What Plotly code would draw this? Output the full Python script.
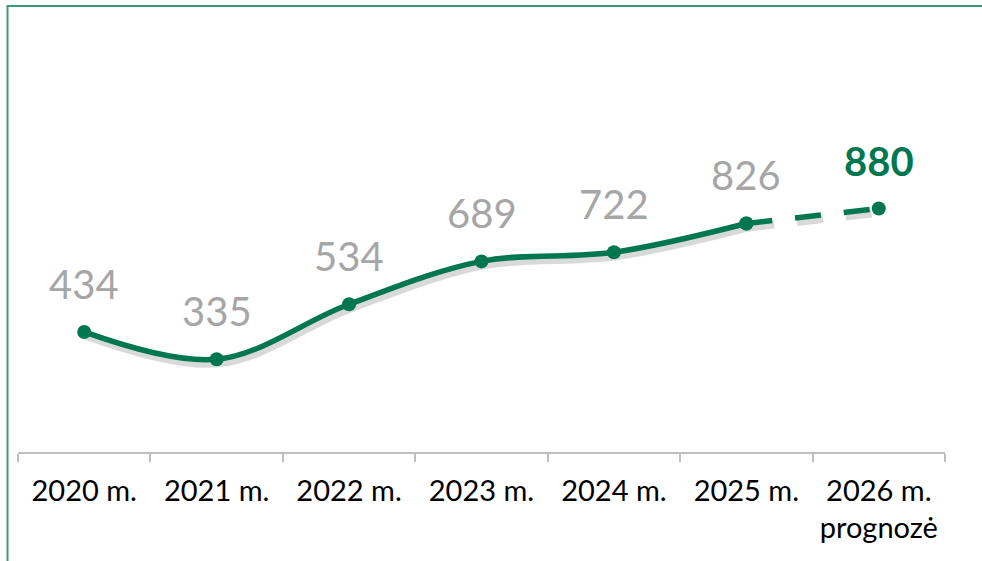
import plotly.graph_objects as go

# chart data
years = ["2020 m.", "2021 m.", "2022 m.", "2023 m.", "2024 m.", "2025 m.", "2026 m.<br>prognozė"]
values = [434, 335, 534, 689, 722, 826, 880]
n_actual = 6  # first six are actual values, last one is a forecast

GREEN = "#00774F"
GREY_LABEL = "#A6A6A6"
BORDER = "#3E9878"

W, H = 982, 561
SHX, SHY = 2, 4  # shadow offset in pixels
L, R, T, B = 18, 37 - SHX, 37, 109 - SHY
Y_MAX = 1500

pw, ph = W - L - R, H - B - T
sx, sy = SHX / pw, SHY / ph

fig = go.Figure()

# soft shadow under the line (x/y axes, drawn first, slightly offset)
fig.add_trace(go.Scatter(
    x=years[:n_actual], y=values[:n_actual],
    mode="lines", line=dict(color="rgba(0,0,0,0.15)", width=8, shape="spline", smoothing=1),
    hoverinfo="skip", showlegend=False,
))
fig.add_trace(go.Scatter(
    x=years[n_actual - 1:], y=values[n_actual - 1:],
    mode="lines", line=dict(color="rgba(0,0,0,0.15)", width=8, dash="26px,23px"),
    hoverinfo="skip", showlegend=False,
))

# actual values
fig.add_trace(go.Scatter(
    x=years[:n_actual], y=values[:n_actual], xaxis="x2", yaxis="y2",
    mode="lines+markers",
    line=dict(color=GREEN, width=5.5, shape="spline", smoothing=1),
    marker=dict(color=GREEN, size=14),
    showlegend=False,
))
# forecast segment
fig.add_trace(go.Scatter(
    x=years[n_actual - 1:], y=values[n_actual - 1:], xaxis="x2", yaxis="y2",
    mode="lines+markers",
    line=dict(color=GREEN, width=5.5, dash="26px,23px"),
    marker=dict(color=GREEN, size=14),
    showlegend=False,
))

# value labels
for i, (yr, v) in enumerate(zip(years, values)):
    forecast = i >= n_actual
    fig.add_annotation(
        x=yr, y=v, xref="x2", yref="y2", text=f"<b>{v}</b>" if forecast else str(v),
        showarrow=False, yanchor="middle", yshift=48,
        font=dict(family="Lato", size=40, color=GREEN if forecast else GREY_LABEL),
    )

# frame lines (left and top)
px_x = lambda p: (p - L) / pw
px_y = lambda p: (H - B - p) / ph
fig.add_shape(type="line", xref="paper", yref="paper",
              x0=px_x(7.5), x1=px_x(W + 5), y0=px_y(6), y1=px_y(6),
              line=dict(color=BORDER, width=2))
fig.add_shape(type="line", xref="paper", yref="paper",
              x0=px_x(7.5), x1=px_x(7.5), y0=px_y(5), y1=px_y(H + 5),
              line=dict(color=BORDER, width=2))

fig.update_layout(
    width=W, height=H,
    margin=dict(l=L, r=R, t=T, b=B),
    plot_bgcolor="rgba(0,0,0,0)",
    paper_bgcolor="white",
    font=dict(family="Lato", color="black"),
    xaxis=dict(type="category", categoryarray=years, range=[-0.5, 6.5],
               domain=[sx, 1], visible=False, anchor="y"),
    yaxis=dict(range=[0, Y_MAX], domain=[0, 1 - sy], visible=False, anchor="x"),
    xaxis2=dict(
        type="category", categoryarray=years, range=[-0.5, 6.5],
        domain=[0, 1 - sx], anchor="y2",
        showgrid=False, zeroline=False,
        showline=True, linecolor="#BFBFBF", linewidth=1.5,
        ticks="outside", tickson="boundaries", ticklen=8, tickcolor="#BFBFBF", tickwidth=1.5,
        tickfont=dict(family="Lato", size=29, color="black"),
        ticklabelstandoff=12,
    ),
    yaxis2=dict(range=[0, Y_MAX], domain=[sy, 1], visible=False, anchor="x2"),
)

fig.write_html("out.html", config={"displayModeBar": False},
               post_script="document.body.style.margin='0';")
